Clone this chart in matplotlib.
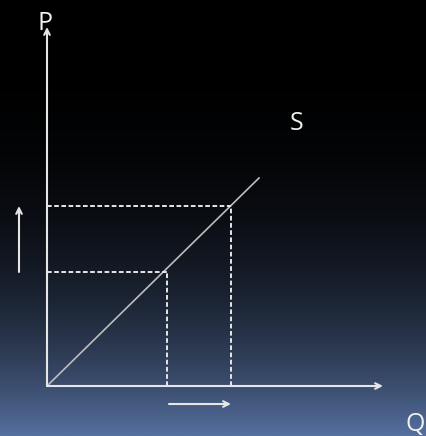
import numpy as np
import matplotlib
matplotlib.use("Agg")
import matplotlib.pyplot as plt

# Supply schedule: quantity supplied rises with price
supply_q = [0.0, 5.3]
supply_p = [0.0, 5.2]

# Two price/quantity points on the supply curve
q_points = [3.0, 4.6]
p_points = [2.85, 4.5]

axis_labels = ["P", "Q"]
curve_label = "S"

W, H = 426, 436
fig = plt.figure(figsize=(W / 100, H / 100), dpi=100)
ax = fig.add_axes([0, 0, 1, 1])

# 40 px per unit, origin placed near the lower left
scale = 40.0
ox, oy = 47.0, 386.0
xlim = (-ox / scale, (W - ox) / scale)
ylim = (-(H - oy) / scale, oy / scale)
ax.set_xlim(*xlim)
ax.set_ylim(*ylim)
ax.axis("off")

# Dark-to-blue vertical gradient background
t = np.linspace(0, 1, 400)[:, None] ** 3.0
bottom = np.array([86, 112, 160]) / 255.0
grad = (t[:, :, None] * bottom[None, None, :]) * np.ones((1, 2, 1))
ax.imshow(grad, extent=(xlim[0], xlim[1], ylim[0], ylim[1]),
          origin="upper", aspect="auto", zorder=0, interpolation="bilinear")

line_col = "#e6e6e6"
arrow_kw = dict(arrowstyle="->", color=line_col, lw=1.5,
                shrinkA=0, shrinkB=0, mutation_scale=10)

# Axes with arrowheads
ax.annotate("", xy=(0, (oy - 27) / scale), xytext=(0, 0),
            arrowprops=arrow_kw, zorder=3)
ax.annotate("", xy=((383 - ox) / scale, 0), xytext=(0, 0),
            arrowprops=arrow_kw, zorder=3)

# Supply curve
ax.plot(supply_q, supply_p, color="#bdbdbd", lw=1.2, zorder=2)

# Dashed guides from each point to both axes
dash = (0, (2.4, 1.3))
for q, p in zip(q_points, p_points):
    ax.plot([0, q], [p, p], color=line_col, lw=1.4, ls=dash, zorder=2)
    ax.plot([q, q], [0, p], color=line_col, lw=1.4, ls=dash, zorder=2)

# Direction arrows: price up, quantity up
ax.annotate("", xy=(-0.7, p_points[1]), xytext=(-0.7, p_points[0]),
            arrowprops=arrow_kw, zorder=3)
ax.annotate("", xy=(q_points[1], -0.45), xytext=(q_points[0] + 0.05, -0.45),
            arrowprops=arrow_kw, zorder=3)

font = dict(color="#f0f0f0", fontsize=18, family="Open Sans")
ax.text(-0.05, (oy - 23) / scale, axis_labels[0], ha="center", va="center", **font)
ax.text((415 - ox) / scale, -(424 - oy) / scale, axis_labels[1], ha="center", va="center", **font)
ax.text((297 - ox) / scale, (oy - 123) / scale, curve_label, ha="center", va="center", **font)

fig.savefig("out.png", dpi=100)
